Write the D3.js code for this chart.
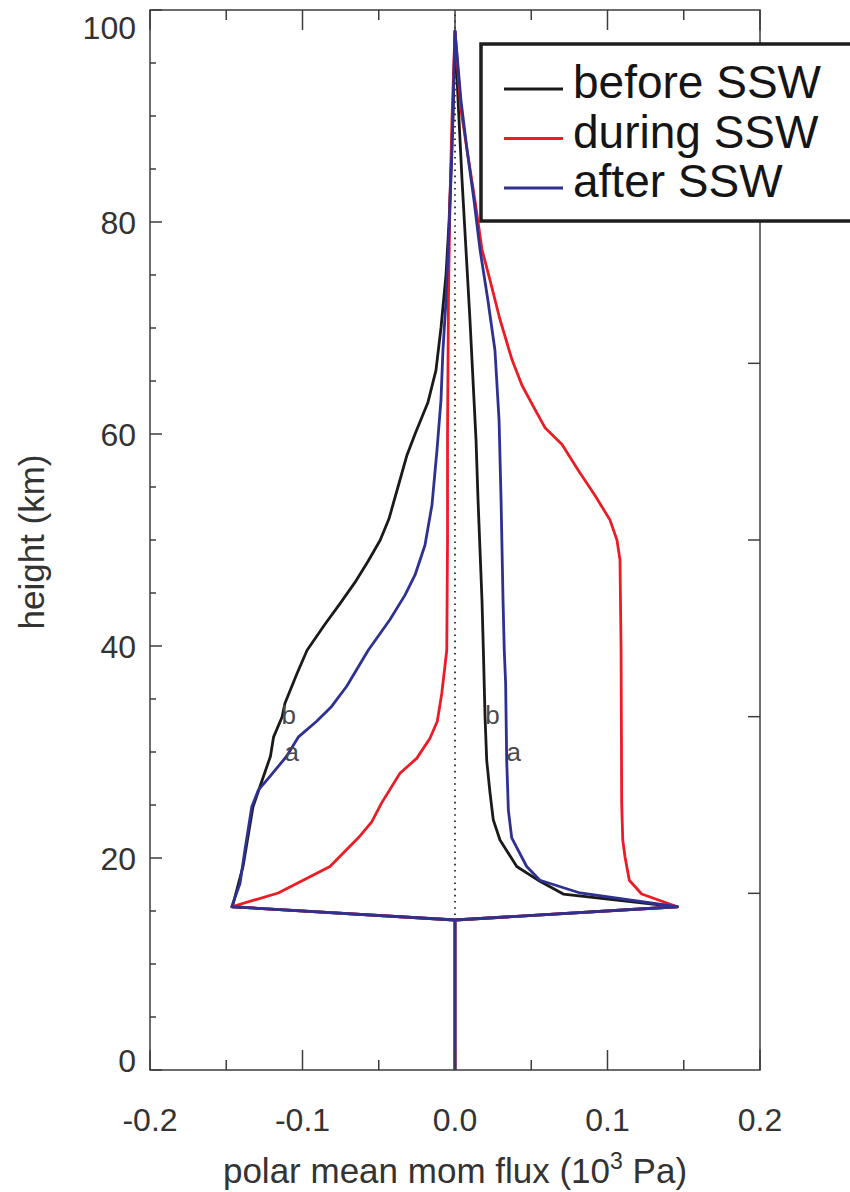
<!DOCTYPE html>
<html>
<head>
<meta charset="utf-8">
<script src="https://cdn.jsdelivr.net/npm/d3@7"></script>
<style>
  html, body { margin: 0; padding: 0; background: #fff; }
  svg { display: block; }
  text { font-family: "Liberation Sans", Arial, Helvetica, sans-serif; }
</style>
</head>
<body>
<svg id="chart" width="850" height="1192"></svg>
<script>
// Polar mean momentum flux profiles, [height km, flux 10^3 Pa]
// Each profile has a westward (left) and eastward (right) branch, listed bottom to top.
const beforeLeft = [
  [15.4, -0.146], [19.2, -0.139], [24.8, -0.1325], [26.7, -0.128], [29.6, -0.121],
  [31.4, -0.119], [33.3, -0.1134], [34.6, -0.1115], [37.4, -0.1036], [39.6, -0.097],
  [42.0, -0.0855], [44.0, -0.0754], [46.0, -0.0656], [48.0, -0.057], [50.0, -0.049],
  [52.0, -0.0433], [55.0, -0.0374], [58.0, -0.0315], [60.0, -0.0262], [63.0, -0.0177],
  [66.0, -0.0125], [70.0, -0.0092], [75.0, -0.0059], [80.0, -0.0039], [85.0, -0.0026],
  [90.0, -0.0013], [98.0, 0.0]
];
const beforeRight = [
  [15.4, 0.1458], [16.6, 0.071], [17.8, 0.0557], [19.2, 0.0405], [21.7, 0.0295],
  [23.6, 0.0251], [26.1, 0.023], [29.2, 0.0208], [33.3, 0.0197], [39.6, 0.0186],
  [44.3, 0.0177], [53.8, 0.0151], [59.4, 0.0138], [65.1, 0.0118], [70.8, 0.0098],
  [77.4, 0.0072], [84.0, 0.0046], [91.5, 0.002], [98.0, 0.0]
];
const duringLeft = [
  [15.4, -0.1464], [16.7, -0.1159], [19.2, -0.082], [21.9, -0.0634], [23.4, -0.0546],
  [25.2, -0.0481], [28.0, -0.0361], [29.4, -0.0251], [31.3, -0.0164], [32.9, -0.0116],
  [35.5, -0.0087], [38.1, -0.0066], [39.6, -0.0054], [50.0, -0.0049], [60.0, -0.0049],
  [72.6, -0.0043], [82.0, -0.0033], [89.6, -0.002], [98.0, 0.0]
];
const duringRight = [
  [15.4, 0.1458], [16.6, 0.1224], [17.9, 0.1143], [20.1, 0.1115], [21.7, 0.11],
  [25.2, 0.1093], [39.6, 0.1089], [48.1, 0.1082], [50.0, 0.1062], [51.9, 0.1016],
  [54.2, 0.0918], [56.6, 0.0807], [59.0, 0.0702], [60.6, 0.059], [62.3, 0.0525],
  [64.6, 0.0439], [67.0, 0.0374], [70.8, 0.0295], [74.5, 0.023], [77.4, 0.0177],
  [82.0, 0.0131], [86.8, 0.0079], [90.6, 0.0039], [98.0, 0.0]
];
const afterLeft = [
  [15.4, -0.1464], [17.6, -0.141], [20.8, -0.1377], [24.8, -0.1333], [26.4, -0.129],
  [27.7, -0.1213], [29.6, -0.1104], [31.4, -0.1028], [32.9, -0.0907], [34.3, -0.0809],
  [36.2, -0.071], [39.6, -0.0569], [42.5, -0.0426], [44.8, -0.0328], [46.7, -0.0262],
  [49.5, -0.0197], [53.3, -0.0151], [58.5, -0.0118], [63.2, -0.0092], [67.9, -0.0079],
  [72.6, -0.0059], [79.2, -0.0039], [86.8, -0.002], [98.0, 0.0]
];
const afterRight = [
  [15.4, 0.1458], [16.7, 0.082], [17.9, 0.0557], [19.2, 0.047], [21.9, 0.0372],
  [24.5, 0.035], [29.2, 0.0339], [36.5, 0.0332], [39.6, 0.0323], [44.3, 0.0315],
  [53.8, 0.0302], [61.3, 0.0289], [67.9, 0.0262], [72.6, 0.0216], [77.4, 0.0164],
  [82.0, 0.0125], [86.8, 0.0079], [91.5, 0.0039], [98.0, 0.0]
];
// Below the source level every profile sits at zero flux
const baseProfile = [[0, 0], [14.15, 0]];

const seriesNames = ["before SSW", "during SSW", "after SSW"];
const seriesColors = ["#1a1a1a", "#ed1c24", "#2e3192"];
const xTicks = [-0.2, -0.1, 0.0, 0.1, 0.2];
const xMinorTicks = [-0.15, -0.05, 0.05, 0.15];
const yTicks = [0, 20, 40, 60, 80, 100];
const yMinorTicks = d3.range(5, 100, 5).filter(v => v % 20 !== 0);
const pressureTicks = [100, 10, 1, 0.1, 0.01]; // hPa, right-hand axis
// Branch letters: [height, flux, letter]
const branchLabels = [
  [33.5, -0.109, "b"], [30.0, -0.107, "a"],
  [33.5, 0.0245, "b"], [30.0, 0.0385, "a"]
];

const svg = d3.select("#chart");
const m = { left: 150, right: 760, top: 10, bottom: 1070 };
const x = d3.scaleLinear().domain([-0.2, 0.2]).range([m.left, m.right]);
const y = d3.scaleLinear().domain([0, 100]).range([m.bottom, m.top]);
const yP = d3.scaleLog().domain([1000, 0.001]).range([m.bottom, m.top]);

const axisColor = "#3c3c3c";
const textColor = "#333";

// zero line
svg.append("line")
  .attr("x1", x(0)).attr("x2", x(0))
  .attr("y1", y(0)).attr("y2", y(100))
  .attr("stroke", "#111").attr("stroke-width", 1.6)
  .attr("stroke-dasharray", "1.6,4.6");

// profiles
const line = d3.line().x(d => x(d[1])).y(d => y(d[0]));
const profiles = [
  [beforeLeft, beforeRight],
  [duringLeft, duringRight],
  [afterLeft, afterRight]
];
profiles.forEach(([L, R], i) => {
  const pts = baseProfile.concat(L, R.slice().reverse(), [baseProfile[1]]);
  svg.append("path")
    .attr("d", line(pts))
    .attr("fill", "none")
    .attr("stroke", seriesColors[i])
    .attr("stroke-width", 2.8)
    .attr("stroke-linejoin", "round");
});

// branch letters
svg.selectAll("text.branch").data(branchLabels).enter().append("text")
  .attr("class", "branch")
  .attr("x", d => x(d[1])).attr("y", d => y(d[0]))
  .attr("text-anchor", "middle").attr("dominant-baseline", "central")
  .attr("font-size", 26).attr("fill", "#4a4a4a")
  .text(d => d[2]);

// frame
svg.append("rect")
  .attr("x", m.left).attr("y", m.top)
  .attr("width", m.right - m.left).attr("height", m.bottom - m.top)
  .attr("fill", "none").attr("stroke", axisColor).attr("stroke-width", 1.5);

const ticks = svg.append("g").attr("stroke", axisColor).attr("stroke-width", 1.5);
// bottom and top ticks
xTicks.forEach(v => {
  ticks.append("line").attr("x1", x(v)).attr("x2", x(v)).attr("y1", m.bottom).attr("y2", m.bottom - 20);
  ticks.append("line").attr("x1", x(v)).attr("x2", x(v)).attr("y1", m.top).attr("y2", m.top + 20);
});
xMinorTicks.forEach(v => {
  ticks.append("line").attr("x1", x(v)).attr("x2", x(v)).attr("y1", m.bottom).attr("y2", m.bottom - 10);
  ticks.append("line").attr("x1", x(v)).attr("x2", x(v)).attr("y1", m.top).attr("y2", m.top + 10);
});
// left ticks
yTicks.forEach(v => {
  ticks.append("line").attr("x1", m.left).attr("x2", m.left + 12).attr("y1", y(v)).attr("y2", y(v));
});
yMinorTicks.forEach(v => {
  ticks.append("line").attr("x1", m.left).attr("x2", m.left + 6).attr("y1", y(v)).attr("y2", y(v));
});
// right-hand pressure ticks
pressureTicks.forEach(v => {
  ticks.append("line").attr("x1", m.right).attr("x2", m.right - 12).attr("y1", yP(v)).attr("y2", yP(v));
});

// tick labels
const fmt = d => d3.format(".1f")(d).replace("\u2212", "-");
svg.selectAll("text.xt").data(xTicks).enter().append("text")
  .attr("class", "xt")
  .attr("x", d => x(d)).attr("y", 1131)
  .attr("text-anchor", "middle").attr("font-size", 32).attr("fill", textColor)
  .text(fmt);

svg.selectAll("text.yt").data(yTicks).enter().append("text")
  .attr("class", "yt")
  .attr("x", 136)
  .attr("y", d => Math.max(27, Math.min(1060, y(d))))
  .attr("dy", "0.36em")
  .attr("text-anchor", "end").attr("font-size", 32).attr("fill", textColor)
  .text(d => d);

// axis titles
const xTitle = svg.append("text")
  .attr("x", x(0)).attr("y", 1183)
  .attr("text-anchor", "middle").attr("font-size", 35).attr("fill", textColor);
xTitle.append("tspan").text("polar mean mom flux (10");
xTitle.append("tspan").attr("dy", -14).attr("font-size", 23).text("3");
xTitle.append("tspan").attr("dy", 14).text(" Pa)");

svg.append("text")
  .attr("transform", "translate(44,542) rotate(-90)")
  .attr("text-anchor", "middle").attr("font-size", 35).attr("fill", textColor)
  .text("height (km)");

// legend
const lg = svg.append("g");
lg.append("rect")
  .attr("x", 481).attr("y", 44).attr("width", 420).attr("height", 177)
  .attr("fill", "#fff").attr("stroke", "#1e1e1e").attr("stroke-width", 3.5);
seriesNames.forEach((name, i) => {
  const by = 98 + i * 49.5;
  lg.append("line")
    .attr("x1", 504).attr("x2", 563).attr("y1", by - 9).attr("y2", by - 9)
    .attr("stroke", seriesColors[i]).attr("stroke-width", 3);
  lg.append("text")
    .attr("x", 573).attr("y", by)
    .attr("font-size", 46).attr("fill", "#151515")
    .text(name);
});
</script>
</body>
</html>
